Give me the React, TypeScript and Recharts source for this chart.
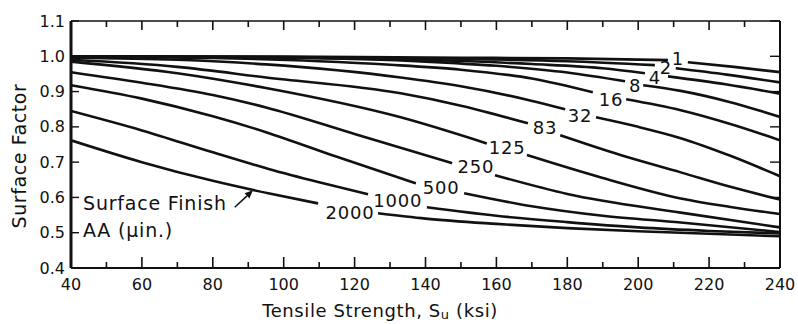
import { LineChart, Line, XAxis, YAxis, ReferenceDot, ReferenceLine } from 'recharts'

const FONT = '"DejaVu Sans", sans-serif'
const INK = '#111'

const X_TICKS = [40, 50, 60, 70, 80, 90, 100, 110, 120, 130, 140, 150, 160, 170, 180, 190, 200, 210, 220, 230, 240]
const Y_TICKS = [0.4, 0.5, 0.6, 0.7, 0.8, 0.9, 1.0, 1.1]

// surface finish AA (micro-inch), one curve each
const FINISHES = ['1', '2', '4', '8', '16', '32', '83', '125', '250', '500', '1000', '2000']

// [tensile strength ksi, surface factor]; null leaves the gap where the label sits
const F1 = [[40, 1.0], [100, 0.999], [150, 0.996], [180, 0.994], [208.4, 0.989], [211, null], [214, 0.983], [227, 0.97], [240, 0.955]]
const F2 = [[40, 1.0], [100, 0.998], [150, 0.993], [180, 0.986], [204.7, 0.975], [207.8, null], [210.6, 0.966], [225, 0.948], [240, 0.926]]
const F4 = [[40, 1.0], [100, 0.997], [140, 0.99], [170, 0.978], [190, 0.966], [201.9, 0.952], [205, null], [208.4, 0.943], [225, 0.92], [240, 0.894]]
const F8 = [[40, 1.0], [100, 0.996], [140, 0.985], [160, 0.973], [180, 0.954], [196.3, 0.929], [199, null], [201.4, 0.918], [212, 0.902], [226, 0.87], [240, 0.828]]
const F16 = [[40, 0.999], [80, 0.995], [110, 0.986], [130, 0.976], [150, 0.962], [170, 0.937], [187.2, 0.898], [192, null], [196.6, 0.878], [212, 0.847], [226, 0.808], [240, 0.762]]
const F32 = [[40, 0.996], [70, 0.99], [95, 0.977], [133, 0.94], [150, 0.915], [169.5, 0.875], [179.4, 0.85], [184, null], [188.1, 0.827], [200, 0.8], [212, 0.768], [226, 0.718], [240, 0.66]]
const F83 = [[40, 0.99], [70, 0.97], [95, 0.94], [133, 0.895], [150, 0.86], [168.9, 0.81], [173, null], [178, 0.776], [195, 0.72], [212, 0.671], [226, 0.63], [240, 0.594]]
const F125 = [[40, 0.985], [70, 0.952], [95, 0.91], [133, 0.827], [157.3, 0.753], [163, null], [168.6, 0.72], [190, 0.655], [212, 0.597], [226, 0.573], [240, 0.553]]
const F250 = [[40, 0.955], [60, 0.925], [80, 0.89], [95, 0.855], [120, 0.78], [147.5, 0.697], [154, null], [159.6, 0.663], [180, 0.61], [212, 0.557], [240, 0.515]]
const F500 = [[40, 0.918], [60, 0.88], [80, 0.83], [95, 0.785], [115, 0.715], [137.3, 0.64], [144, null], [150.9, 0.612], [170, 0.575], [190, 0.548], [212, 0.529], [240, 0.502]]
const F1000 = [[40, 0.845], [60, 0.79], [80, 0.728], [96, 0.68], [110, 0.643], [123.8, 0.609], [132, null], [140.4, 0.572], [160, 0.548], [180, 0.53], [200, 0.515], [220, 0.505], [240, 0.498]]
const F2000 = [[40, 0.762], [60, 0.70], [80, 0.647], [96, 0.611], [109.7, 0.583], [118, null], [126.6, 0.555], [140, 0.54], [160, 0.525], [180, 0.513], [200, 0.504], [220, 0.497], [240, 0.49]]

const CURVES = [F1, F2, F4, F8, F16, F32, F83, F125, F250, F500, F1000, F2000]

// where each finish number is written on its curve
const LABEL_AT = [[211.2, 0.993], [207.8, 0.967], [204.7, 0.94], [199.1, 0.918], [192.3, 0.878], [183.6, 0.833], [173.7, 0.799], [163, 0.742], [154.2, 0.688], [144.4, 0.629], [132.2, 0.592], [118.7, 0.558]]

const NOTE_LINES = ['Surface Finish', 'AA (\u03bcin.)']
const NOTE_AT = [[43.4, 0.583], [43.4, 0.507]]
const ARROW = [[86.2, 0.572], [91.3, 0.62]]

const rows = (c: (number | null)[][]) => c.map(([t, v]) => ({ t, v }))

function textLabel(value: string, anchor: 'start' | 'middle', size: number, spacing: number) {
  return {
    content: (props: any) => (
      <text x={props.viewBox.x} y={props.viewBox.y} textAnchor={anchor} dominantBaseline="central"
        fontSize={size} letterSpacing={spacing} fontFamily={FONT} fill={INK}>{value}</text>
    ),
  }
}

function BottomLabel({ x, y, payload }: any) {
  if (payload.value % 20 !== 0) return null
  return (
    <text x={x} y={y + 16} textAnchor="middle" dominantBaseline="central" fontSize={16} fontFamily={FONT} fill={INK}>
      {payload.value}
    </text>
  )
}

function LeftLabel({ x, y, payload }: any) {
  return (
    <text x={x - 6} y={y} textAnchor="end" dominantBaseline="central" fontSize={16} fontFamily={FONT} fill={INK}>
      {payload.value.toFixed(1)}
    </text>
  )
}

// inward tick marks on the bottom and top edges of the frame
function xMarks(major: boolean) {
  return (p: any) => {
    const top = Math.min(p.y1, p.y2)
    const bot = Math.max(p.y1, p.y2)
    return (
      <g stroke={INK} strokeWidth={1.6} fill="none">
        <path d={`M${p.x1},${bot}V${bot - (major ? 11 : 6)}`} />
        <path d={`M${p.x1},${top}V${top + (major ? 9 : 6)}`} />
      </g>
    )
  }
}

// inward tick marks on the left and right edges of the frame
function yMarks(p: any) {
  const left = Math.min(p.x1, p.x2)
  const right = Math.max(p.x1, p.x2)
  return (
    <g stroke={INK} strokeWidth={1.4} fill="none">
      <path d={`M${left},${p.y1}H${left + 8}`} />
      <path d={`M${right},${p.y1}H${right - 10}`} />
    </g>
  )
}

function Arrow(p: any) {
  const { x1, y1, x2, y2 } = p
  const a = Math.atan2(y2 - y1, x2 - x1)
  const bx = x2 - 8 * Math.cos(a)
  const by = y2 - 8 * Math.sin(a)
  const nx = -Math.sin(a) * 3.5
  const ny = Math.cos(a) * 3.5
  return (
    <g>
      <line x1={x1} y1={y1} x2={bx} y2={by} stroke={INK} strokeWidth={1.5} />
      <polygon points={`${x2},${y2} ${bx + nx},${by + ny} ${bx - nx},${by - ny}`} fill={INK} />
    </g>
  )
}

export default function App() {
  return (
    <div style={{ position: 'absolute', left: 0, top: 0, background: '#fff' }}>
      <LineChart width={798} height={324} margin={{ top: 21, right: 18, bottom: 0, left: 0 }}>
        <XAxis dataKey="t" type="number" domain={[40, 240]} ticks={X_TICKS} interval={0} height={56}
          tickSize={0} tickMargin={0} tickLine={false} tick={<BottomLabel />} allowDataOverflow
          axisLine={{ stroke: INK, strokeWidth: 2 }}
          label={{
            content: (props: any) => (
              <text x={props.viewBox.x + 309} y={props.viewBox.y + 42} textAnchor="middle" dominantBaseline="central"
                fontSize={18} letterSpacing={0.6} fontFamily={FONT} fill={INK}>
                Tensile Strength, S<tspan dy={4} fontSize={13}>u</tspan><tspan dy={-4}>{'  (ksi)'}</tspan>
              </text>
            ),
          }} />
        <YAxis type="number" domain={[0.4, 1.1]} ticks={Y_TICKS} interval={0} width={71}
          tickSize={0} tickMargin={0} tickLine={false} tick={<LeftLabel />} allowDataOverflow
          axisLine={{ stroke: INK, strokeWidth: 3 }}
          label={{
            content: (props: any) => (
              <text x={props.viewBox.x + 19} y={props.viewBox.y + 135} textAnchor="middle" dominantBaseline="central"
                transform={`rotate(-90 ${props.viewBox.x + 19} ${props.viewBox.y + 135})`}
                fontSize={19} letterSpacing={0.6} fontFamily={FONT} fill={INK}>Surface Factor</text>
            ),
          }} />

        {/* frame: top and right edges */}
        <ReferenceLine y={1.1} stroke={INK} strokeWidth={1.6} />
        <ReferenceLine x={240} stroke={INK} strokeWidth={2} />
        {X_TICKS.map((t) => (
          <ReferenceLine key={'xt' + t} x={t} shape={xMarks(t % 20 === 0)} />
        ))}
        {Y_TICKS.map((v) => (
          <ReferenceLine key={'yt' + v} y={v} shape={yMarks} />
        ))}

        {CURVES.map((c, i) => (
          <Line key={FINISHES[i]} data={rows(c)} dataKey="v" type="monotone" stroke={INK} strokeWidth={2.6}
            dot={false} activeDot={false} connectNulls={false} isAnimationActive={false} />
        ))}

        {LABEL_AT.map(([t, v], i) => (
          <ReferenceDot key={'l' + i} x={t} y={v} r={0} fill="none" stroke="none"
            label={textLabel(FINISHES[i], 'middle', 18, 0.8)} />
        ))}
        {NOTE_AT.map(([t, v], i) => (
          <ReferenceDot key={'n' + i} x={t} y={v} r={0} fill="none" stroke="none"
            label={textLabel(NOTE_LINES[i], 'start', 19, 0.8)} />
        ))}
        <ReferenceLine segment={[{ x: ARROW[0][0], y: ARROW[0][1] }, { x: ARROW[1][0], y: ARROW[1][1] }]} shape={Arrow} />
      </LineChart>
    </div>
  )
}
